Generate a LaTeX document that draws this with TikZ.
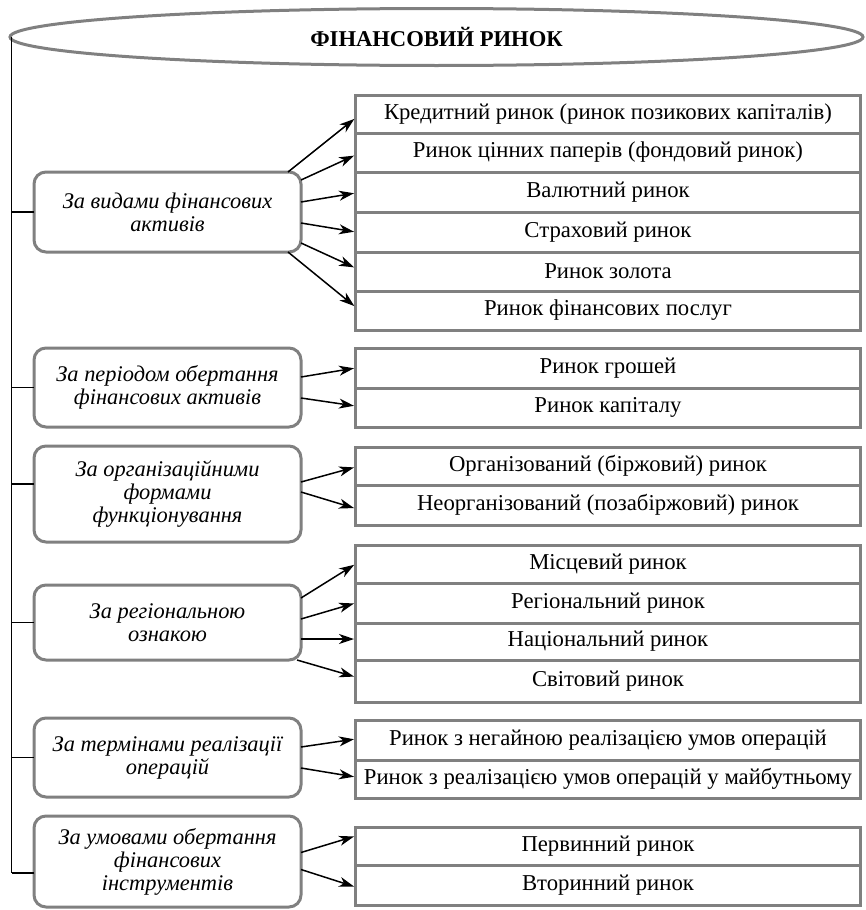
\documentclass[tikz,border=0pt]{standalone}
\usepackage{fontspec}
\setmainfont{Liberation Serif}
\usetikzlibrary{arrows.meta,shapes.geometric}
\definecolor{boxgray}{RGB}{128,128,128}
\begin{document}
\begin{tikzpicture}[x=1pt,y=-1pt,
  every node/.style={inner sep=0pt, outer sep=0pt},
  titlebox/.style={ellipse, draw=boxgray, line width=3pt, minimum width=853pt,
    minimum height=57pt, font=\fontsize{22.6}{26}\selectfont\bfseries},
  catbox/.style={draw=boxgray, line width=3pt, rounded corners=12pt,
    minimum width=267pt, align=center, anchor=north west,
    font=\fontsize{22.4}{23}\selectfont\itshape},
  rowbox/.style={draw=boxgray, line width=3pt, minimum width=505pt,
    anchor=north west, font=\fontsize{22.7}{26}\selectfont},
  link/.style={line width=1.4pt},
  arr/.style={line width=1.5pt, shorten >=1.5pt,
    -{Stealth[length=15pt,width=10pt,inset=4.5pt]}},
]
\useasboundingbox (0,0) rectangle (866,910);

% title
\node[titlebox] (title) at (436.5,37) {ФІНАНСОВИЙ РИНОК};

% classification criteria
\node[catbox, minimum height=80pt] (c1) at (34,172) {За видами фінансових\\активів};
\node[catbox, minimum height=79pt] (c2) at (34,348) {За періодом обертання\\фінансових активів};
\node[catbox, minimum height=96pt] (c3) at (34,446) {За організаційними\\формами\\функціонування};
\node[catbox, minimum height=75pt] (c4) at (34,585) {За регіональною\\ознакою};
\node[catbox, minimum height=79pt] (c5) at (34,718) {За термінами реалізації\\операцій};
\node[catbox, minimum height=91pt] (c6) at (34,816) {За умовами обертання\\фінансових\\інструментів};

% market types
\node[rowbox, minimum height=38pt] (r11) at (355.5,95)  {Кредитний ринок (ринок позикових капіталів)};
\node[rowbox, minimum height=39pt] (r12) at (355.5,133) {Ринок цінних паперів (фондовий ринок)};
\node[rowbox, minimum height=40pt] (r13) at (355.5,172) {Валютний ринок};
\node[rowbox, minimum height=40pt] (r14) at (355.5,212) {Страховий ринок};
\node[rowbox, minimum height=39pt] (r15) at (355.5,252) {Ринок золота};
\node[rowbox, minimum height=39pt] (r16) at (355.5,291) {Ринок фінансових послуг};

\node[rowbox, minimum height=40pt] (r21) at (355.5,348) {Ринок грошей};
\node[rowbox, minimum height=39pt] (r22) at (355.5,388) {Ринок капіталу};

\node[rowbox, minimum height=38pt] (r31) at (355.5,447) {Організований (біржовий) ринок};
\node[rowbox, minimum height=40pt] (r32) at (355.5,485) {Неорганізований (позабіржовий) ринок};

\node[rowbox, minimum height=38pt] (r41) at (355.5,545) {Місцевий ринок};
\node[rowbox, minimum height=40pt] (r42) at (355.5,583) {Регіональний ринок};
\node[rowbox, minimum height=37pt] (r43) at (355.5,623) {Національний ринок};
\node[rowbox, minimum height=42pt] (r44) at (355.5,660) {Світовий ринок};

\node[rowbox, minimum height=40pt] (r51) at (355.5,720) {Ринок з негайною реалізацією умов операцій};
\node[rowbox, minimum height=38pt] (r52) at (355.5,760) {Ринок з реалізацією умов операцій у майбутньому};

\node[rowbox, minimum height=38pt] (r61) at (355.5,827) {Первинний ринок};
\node[rowbox, minimum height=40pt] (r62) at (355.5,865) {Вторинний ринок};

% left spine with ticks
\coordinate (spinetop) at ([xshift=1.7pt]title.west);
\coordinate (t3) at ([yshift=10pt]c3.west);
\coordinate (t6) at ([yshift=-11.5pt]c6.west);
\draw[link] (spinetop) -- (t6 -| spinetop);
\draw[link] (c1.west) -- (c1.west -| spinetop);
\draw[link] (c2.west) -- (c2.west -| spinetop);
\draw[link] (t3) -- (t3 -| spinetop);
\draw[link] (c4.west) -- (c4.west -| spinetop);
\draw[link] (c5.west) -- (c5.west -| spinetop);
\draw[link] (t6) -- (t6 -| spinetop);

% arrows
\draw[arr] ([xshift=-13pt]c1.north east) -- ([yshift=-4pt]r11.west);
\draw[arr] ([yshift=32pt]c1.east) -- ([yshift=-2.5pt]r12.west);
\draw[arr] ([yshift=10pt]c1.east) -- ([yshift=-1pt]r13.west);
\draw[arr] ([yshift=-11pt]c1.east) -- (r14.west);
\draw[arr] ([yshift=-31pt]c1.east) -- ([yshift=3.5pt]r15.west);
\draw[arr] ([xshift=-13pt]c1.south east) -- ([yshift=3.5pt]r16.west);

\draw[arr] ([yshift=10.5pt]c2.east) -- (r21.west);
\draw[arr] ([yshift=-10.5pt]c2.east) -- ([yshift=1.5pt]r22.west);

\draw[arr] ([yshift=12pt]c3.east) -- ([yshift=-1pt]r31.west);
\draw[arr] ([yshift=2pt]c3.east) -- ([yshift=-3.5pt]r32.west);

\draw[arr] ([yshift=24.5pt]c4.east) -- (r41.west);
\draw[arr] ([yshift=3.5pt]c4.east) -- (r42.west);
\draw[arr] ([yshift=-16.5pt]c4.east) -- ([yshift=2.5pt]r43.west);
\draw[arr] ([xshift=-4pt]c4.south east) -- ([yshift=4pt]r44.west);

\draw[arr] ([yshift=10.5pt]c5.east) -- ([yshift=1pt]r51.west);
\draw[arr] ([yshift=-10.5pt]c5.east) -- ([yshift=2pt]r52.west);

\draw[arr] ([yshift=9pt]c6.east) -- ([yshift=10pt]r61.west);
\draw[arr] ([yshift=-8pt]c6.east) -- ([yshift=-2pt]r62.west);
\end{tikzpicture}
\end{document}
